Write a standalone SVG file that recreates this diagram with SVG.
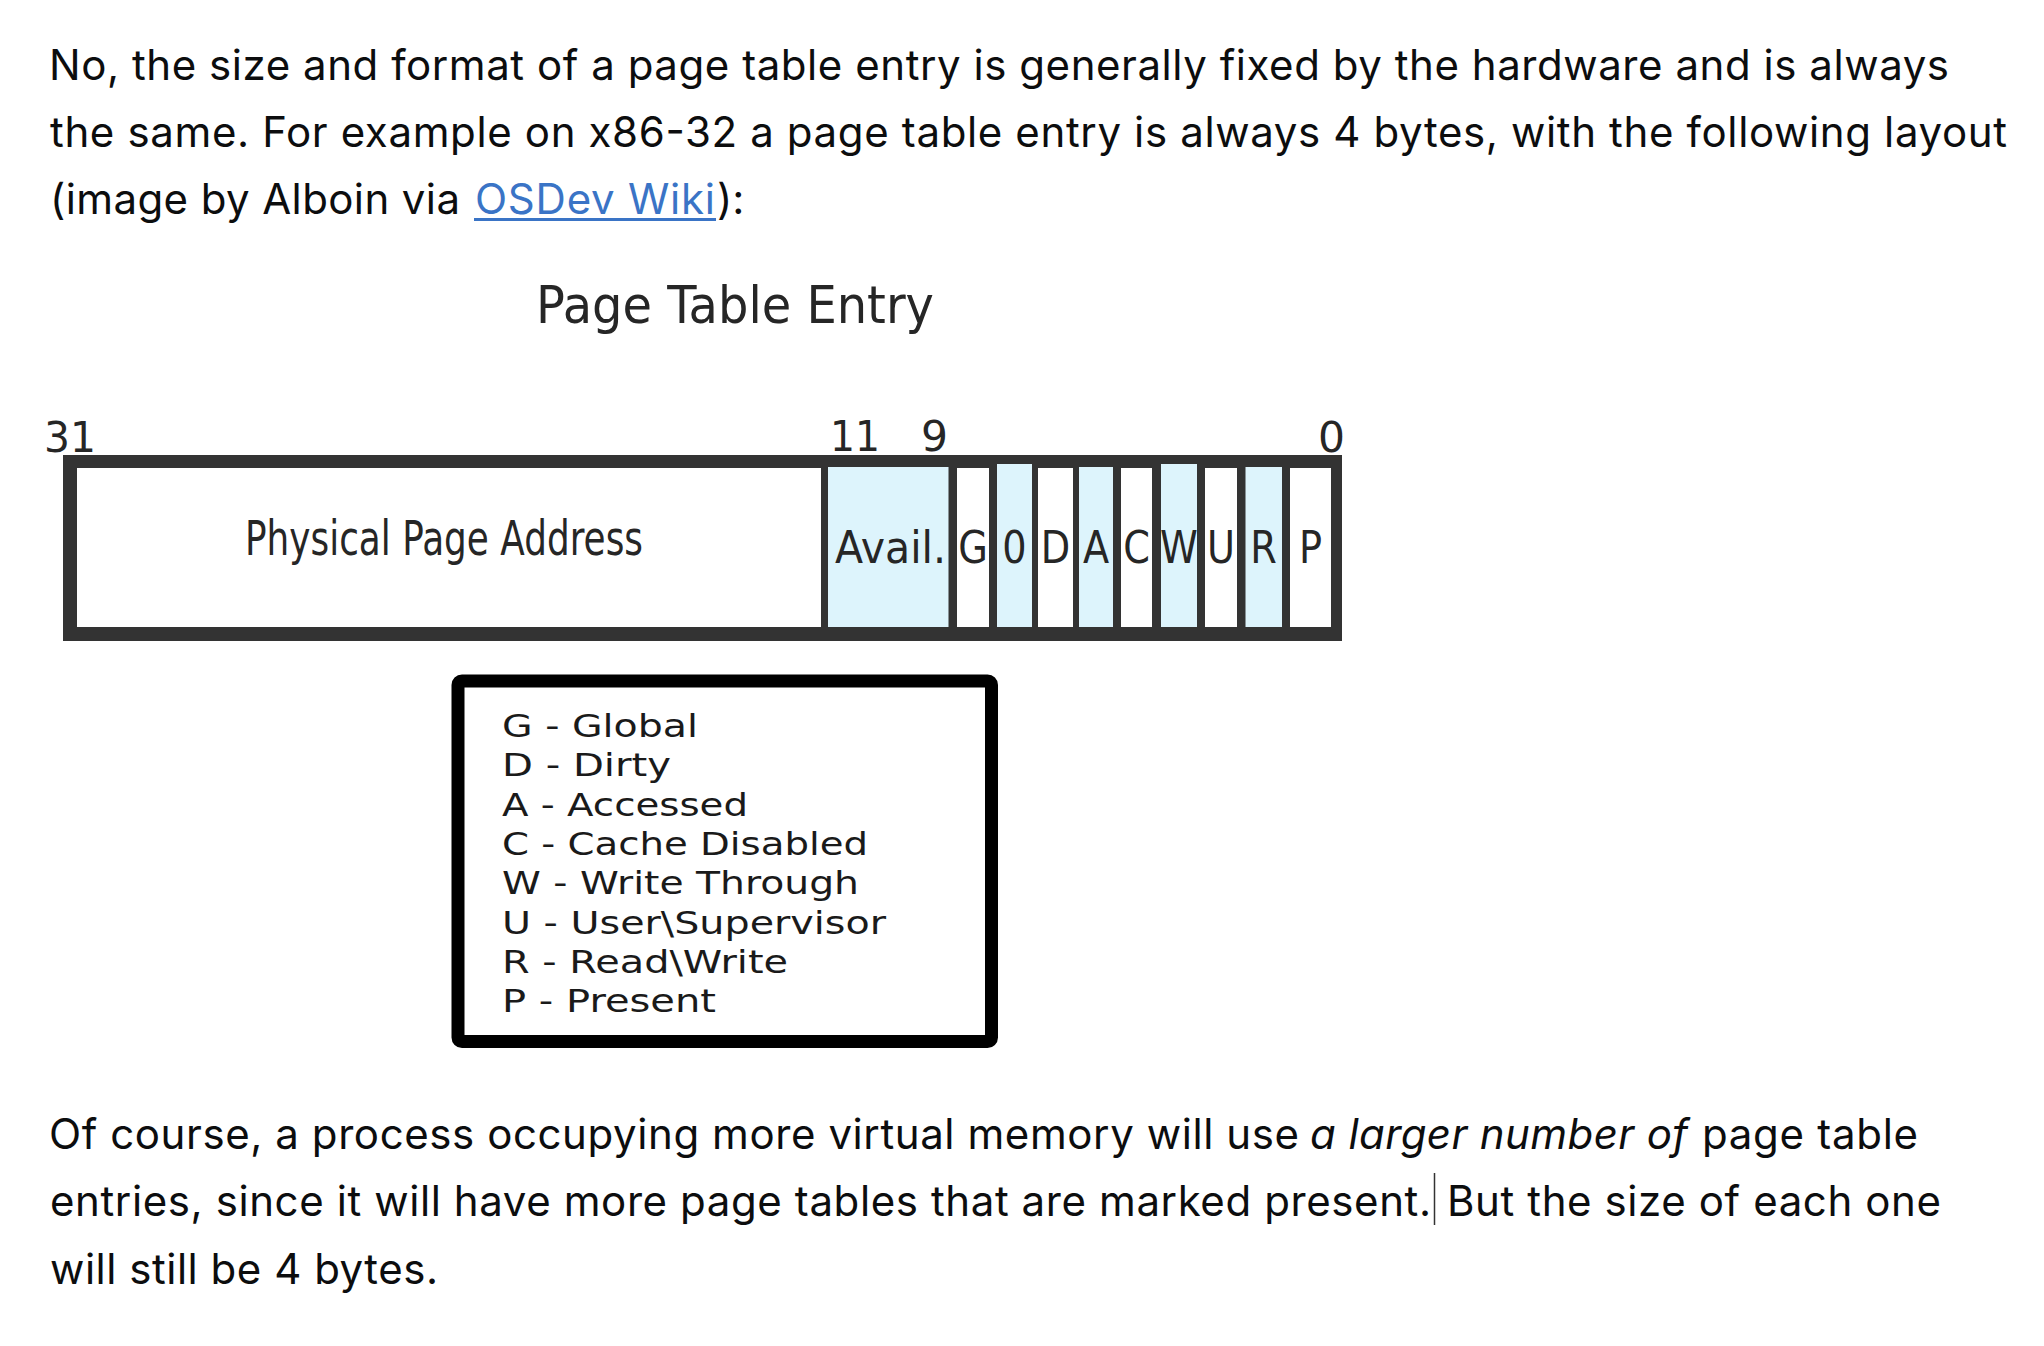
<svg xmlns="http://www.w3.org/2000/svg" width="2044" height="1346" viewBox="0 0 2044 1346">
<style>
.body{font-family:Inter,"Liberation Sans",Arial,sans-serif;font-size:42px;fill:#0c0d0e}
.ital{font-style:italic}
.link{fill:#3a74c6}
.dg{font-family:"DejaVu Sans",Verdana,sans-serif;fill:#262626}
.cell{font-size:45px;text-anchor:middle}
.bit{font-size:42px}
.leg{font-family:"DejaVu Sans",Verdana,sans-serif;font-size:32px;fill:#1a1a1a}
.wh{fill:#ffffff}
.bl{fill:#ddf4fc}
</style>
<rect width="2044" height="1346" fill="#ffffff"/>
<g id="intro-text">
<text class="body" x="49" y="80" textLength="1900">No, the size and format of a page table entry is generally fixed by the hardware and is always</text>
<text class="body" x="50" y="147" textLength="1957">the same. For example on x86-32 a page table entry is always 4 bytes, with the following layout</text>
<text class="body" x="50" y="214" textLength="410">(image by Alboin via</text>
<text class="body link" x="475" y="214" textLength="240">OSDev Wiki</text>
<rect x="474" y="218" width="242" height="3" fill="#3a74c6"/>
<text class="body" x="717" y="214">):</text>
</g>
<g id="title">
<text class="dg" x="536" y="323" font-size="52" textLength="398" lengthAdjust="spacingAndGlyphs">Page Table Entry</text>
</g>
<g id="bit-numbers">
<text class="dg bit" x="44" y="452" textLength="52" lengthAdjust="spacingAndGlyphs">31</text>
<text class="dg bit" x="830" y="451" textLength="50" lengthAdjust="spacingAndGlyphs">11</text>
<text class="dg bit" x="921" y="451" textLength="27" lengthAdjust="spacingAndGlyphs">9</text>
<text class="dg bit" x="1318" y="452" textLength="27" lengthAdjust="spacingAndGlyphs">0</text>
</g>
<g id="page-table-entry">
<rect x="63" y="455" width="1279" height="186" fill="#333333"/>
<g id="field-address">
<rect class="wh" x="77" y="468" width="744" height="159"/>
<text class="dg" x="245" y="555" font-size="48" textLength="398" lengthAdjust="spacingAndGlyphs">Physical Page Address</text>
</g>
<g id="field-avail">
<rect class="bl" x="828" y="467" width="120.5" height="160"/>
<text class="dg" x="835" y="563" font-size="45" textLength="111" lengthAdjust="spacingAndGlyphs">Avail.</text>
</g>
<g id="field-g">
<rect class="wh" x="957" y="468" width="32" height="159"/>
<text class="dg cell" transform="translate(973 563) scale(0.85 1)">G</text>
</g>
<g id="field-0">
<rect class="bl" x="997" y="464" width="35" height="163"/>
<text class="dg cell" transform="translate(1014.5 563) scale(0.85 1)">0</text>
</g>
<g id="field-d">
<rect class="wh" x="1038" y="468" width="35" height="159"/>
<text class="dg cell" transform="translate(1055.5 563) scale(0.85 1)">D</text>
</g>
<g id="field-a">
<rect class="bl" x="1079" y="467" width="34" height="160"/>
<text class="dg cell" transform="translate(1096 563) scale(0.85 1)">A</text>
</g>
<g id="field-c">
<rect class="wh" x="1121" y="468" width="31" height="159"/>
<text class="dg cell" transform="translate(1136.5 563) scale(0.85 1)">C</text>
</g>
<g id="field-w">
<rect class="bl" x="1161" y="464" width="36" height="163"/>
<text class="dg cell" transform="translate(1179 563) scale(0.85 1)">W</text>
</g>
<g id="field-u">
<rect class="wh" x="1205" y="468" width="32" height="159"/>
<text class="dg cell" transform="translate(1221 563) scale(0.85 1)">U</text>
</g>
<g id="field-r">
<rect class="bl" x="1245.5" y="467" width="36.5" height="160"/>
<text class="dg cell" transform="translate(1263.5 563) scale(0.85 1)">R</text>
</g>
<g id="field-p">
<rect class="wh" x="1290" y="468" width="41" height="159"/>
<text class="dg cell" transform="translate(1310.5 563) scale(0.85 1)">P</text>
</g>
</g>
<g id="legend">
<rect x="458" y="681" width="533.5" height="360.5" rx="4" fill="#ffffff" stroke="#000000" stroke-width="13" stroke-linejoin="round"/>
<text class="leg" x="502" y="737" textLength="196" lengthAdjust="spacingAndGlyphs">G - Global</text>
<text class="leg" x="502" y="776" textLength="169" lengthAdjust="spacingAndGlyphs">D - Dirty</text>
<text class="leg" x="502" y="816" textLength="246" lengthAdjust="spacingAndGlyphs">A - Accessed</text>
<text class="leg" x="502" y="855" textLength="366" lengthAdjust="spacingAndGlyphs">C - Cache Disabled</text>
<text class="leg" x="502" y="894" textLength="357" lengthAdjust="spacingAndGlyphs">W - Write Through</text>
<text class="leg" x="502" y="934" textLength="384" lengthAdjust="spacingAndGlyphs">U - User\Supervisor</text>
<text class="leg" x="502" y="973" textLength="286" lengthAdjust="spacingAndGlyphs">R - Read\Write</text>
<text class="leg" x="502" y="1012" textLength="214" lengthAdjust="spacingAndGlyphs">P - Present</text>
</g>
<g id="connectors"/>
<g id="closing-text">
<text class="body" x="49" y="1149" textLength="1250">Of course, a process occupying more virtual memory will use</text>
<text class="body ital" x="1310" y="1149" textLength="378">a larger number of</text>
<text class="body" x="1702" y="1149" textLength="216">page table</text>
<text class="body" x="50" y="1216" textLength="1381">entries, since it will have more page tables that are marked present.</text>
<line x1="1434.5" y1="1173" x2="1434.5" y2="1225" stroke="#333333" stroke-width="1.5"/>
<text class="body" x="1447" y="1216" textLength="494">But the size of each one</text>
<text class="body" x="50" y="1284" textLength="388">will still be 4 bytes.</text>
</g>
</svg>
